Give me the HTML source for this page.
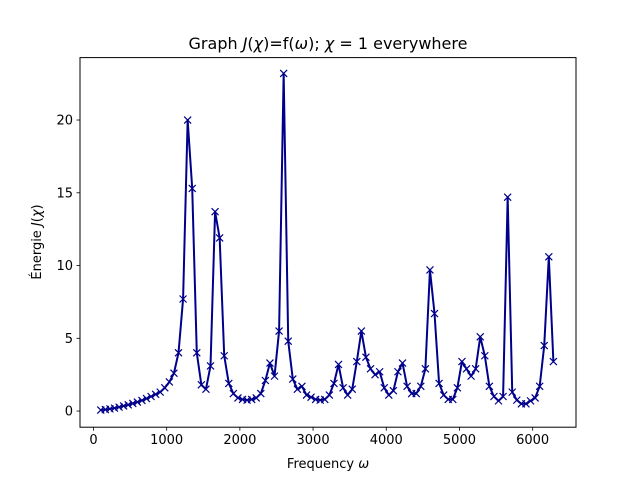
<!DOCTYPE html>
<html><head><meta charset="utf-8"><style>
html,body{margin:0;padding:0;background:#fff;}
svg text{font-family:"DejaVu Sans","Liberation Sans",sans-serif;fill:#000;}
</style></head><body>
<svg id="chart" width="640" height="480" xmlns="http://www.w3.org/2000/svg">
<rect width="640" height="480" fill="#fff"/>
<text x="328" y="49" font-size="16" text-anchor="middle">Graph  <tspan font-style="italic">J</tspan>(<tspan font-style="italic">χ</tspan>)=f(<tspan font-style="italic">ω</tspan>); <tspan font-style="italic">χ</tspan> = 1 everywhere</text>
<g id="plot"></g>
<g id="xticks"></g>
<g id="yticks"></g>
<rect x="80" y="57.6" width="496" height="369.6" fill="none" stroke="#000" stroke-width="1"/>
<text x="328" y="468" font-size="13" text-anchor="middle">Frequency <tspan font-style="italic">ω</tspan></text>
<text transform="translate(41,242) rotate(-90)" font-size="13" text-anchor="middle">Énergie <tspan font-style="italic">J</tspan>(<tspan font-style="italic">χ</tspan>)</text>
</svg>
<script>
const energy = [0.07,0.1,0.15,0.2,0.27,0.35,0.43,0.52,0.62,0.73,0.86,1.0,1.15,
1.3,1.6,2.0,2.6,4.0,7.7,20.0,15.3,4.0,1.8,1.5,3.1,13.7,11.9,3.8,1.9,1.2,0.9,0.8,0.75,0.8,0.9,1.2,2.1,3.3,2.4,5.5,23.2,4.8,2.2,1.5,1.7,1.1,0.95,0.8,0.75,0.8,1.1,1.9,3.2,1.6,1.1,1.5,3.4,
5.5,3.7,2.9,2.5,2.7,1.6,1.1,1.4,2.7,3.3,1.7,1.2,1.2,1.7,2.9,9.7,6.7,1.9,1.1,0.8,0.8,1.6,3.4,2.9,2.4,2.9,5.1,3.8,1.7,1.0,0.7,1.0,14.7,1.3,0.75,0.5,0.5,0.7,0.9,1.7,4.5,10.6,3.4];
const freqStart = 100;
const freqEnd = 6283;
const xTickValues = [0,1000,2000,3000,4000,5000,6000];
const yTickValues = [0,5,10,15,20];

const NS = "http://www.w3.org/2000/svg";
const L=80,R=576,T=57.6,B=427.2;
const xmin=-184,xmax=6592,ymin=-1.11,ymax=24.29;
function sx(v){return L+(v-xmin)/(xmax-xmin)*(R-L);}
function sy(v){return B-(v-ymin)/(ymax-ymin)*(B-T);}
function mk(tag,attrs,parent){const e=document.createElementNS(NS,tag);for(const k in attrs)e.setAttribute(k,attrs[k]);parent.appendChild(e);return e;}

const n=energy.length;
const freqs=energy.map((_,i)=>freqStart+(freqEnd-freqStart)*i/(n-1));
const plot=document.getElementById('plot');
const pts=freqs.map((f,i)=>sx(f).toFixed(2)+','+sy(energy[i]).toFixed(2)).join(' ');
const line=mk('polyline',{points:pts,fill:'none',stroke:'#00008b','stroke-width':2,'stroke-linejoin':'round'},plot);


freqs.forEach((f,i)=>{
  const x=sx(f),y=sy(energy[i]),s=3.5;
  const m=mk('path',{d:`M${x-s},${y-s}L${x+s},${y+s}M${x-s},${y+s}L${x+s},${y-s}`,stroke:'#00008b','stroke-width':1.2,fill:'none'},plot);
  
  
});

const xg=document.getElementById('xticks');
xTickValues.forEach(v=>{
  const x=sx(v);
  const t=mk('line',{x1:x,x2:x,y1:B,y2:B+3.5,stroke:'#000','stroke-width':0.8},xg);
  
  
  const l=mk('text',{x:x,y:B+17,'font-size':13,'text-anchor':'middle'},xg);
  l.textContent=v;
  
  
});
const yg=document.getElementById('yticks');
yTickValues.forEach(v=>{
  const y=sy(v);
  const t=mk('line',{x1:L-3.5,x2:L,y1:y,y2:y,stroke:'#000','stroke-width':0.8},yg);
  
  
  const l=mk('text',{x:L-7,y:y+4.5,'font-size':13,'text-anchor':'end'},yg);
  l.textContent=v;
  
  
});
</script>
</body></html>
